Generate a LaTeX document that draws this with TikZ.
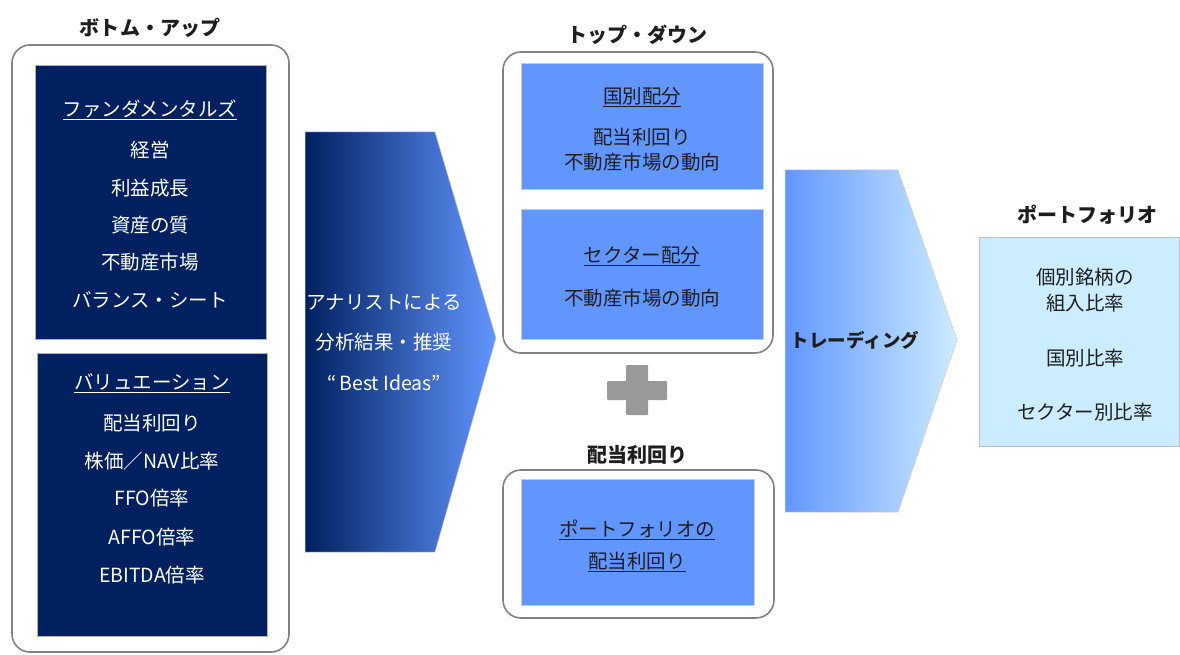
\documentclass[tikz,border=0pt]{standalone}
\usepackage{fontspec}
\newfontfamily\jp{Noto Sans CJK JP}
\definecolor{navy}{RGB}{0,32,96}
\definecolor{midblue}{RGB}{98,150,255}
\definecolor{paleblue}{RGB}{204,236,255}
\definecolor{ink}{RGB}{30,30,30}
\definecolor{framegray}{RGB}{130,130,130}
\definecolor{plusgray}{RGB}{153,153,153}
\tikzset{
  txt/.style={font=\jp\fontsize{19.5bp}{22bp}\selectfont, inner sep=0pt, align=center},
  wtxt/.style={txt, text=white},
  dtxt/.style={txt, text=ink},
  ttl/.style={font=\jp\bfseries\fontsize{20bp}{22bp}\selectfont, inner sep=0pt, text=ink},
  group/.style={draw=framegray, line width=1.6bp, rounded corners=18bp},
  navybox/.style={fill=navy, draw=gray!60, line width=0.6bp},
  bluebox/.style={fill=midblue, draw=gray!40, line width=0.6bp},
}
\begin{document}
\begin{tikzpicture}[x=1bp,y=-1bp]
\useasboundingbox (0,0) rectangle (1180,655);
\fill[white] (0,0) rectangle (1180,655);

% ---------------- Bottom-up ----------------
\node[ttl] (tbu) at (150,28) {ボトム・アップ};
\draw[group] (12,45) rectangle (289,652);
\draw[navybox] (35,65) rectangle (266,339);
\node[wtxt] (fh) at (150,110) {\underline{ファンダメンタルズ}};
\node[wtxt] (f1) at (150,150) {経営};
\node[wtxt] (f2) at (150,188) {利益成長};
\node[wtxt] (f3) at (150,225) {資産の質};
\node[wtxt] (f4) at (150,262) {不動産市場};
\node[wtxt] (f5) at (150,300) {バランス・シート};

\draw[navybox] (37,353) rectangle (267,636);
\node[wtxt] (vh) at (152,383) {\underline{バリュエーション}};
\node[wtxt] (v1) at (152,423) {配当利回り};
\node[wtxt] (v2) at (152,461) {株価／NAV比率};
\node[wtxt] (v3) at (152,498) {FFO倍率};
\node[wtxt] (v4) at (152,537) {AFFO倍率};
\node[wtxt] (v5) at (152,575) {EBITDA倍率};

% ---------------- Analyst arrow ----------------
\shade[left color=navy, right color=midblue, draw=gray!40, line width=0.5bp]
  (305,132) -- (435,132) -- (496,338) -- (435,552) -- (305,552) -- cycle;
\node[wtxt] (a1) at (384,302) {アナリストによる};
\node[wtxt] (a2) at (384,342) {分析結果・推奨};
\node[wtxt] (a3) at (384,383) {“\,Best Ideas”};

% ---------------- Top-down ----------------
\node[ttl] (ttd) at (637,35) {トップ・ダウン};
\draw[group] (503,52) rectangle (773,353);
\draw[bluebox] (521,63) rectangle (763,189);
\node[dtxt] (k0) at (642,97) {\underline{国別配分}};
\node[dtxt] (k1) at (642,137) {配当利回り};
\node[dtxt] (k2) at (642,162) {不動産市場の動向};
\draw[bluebox] (521,209) rectangle (763,339);
\node[dtxt] (s0) at (642,256) {\underline{セクター配分}};
\node[dtxt] (s1) at (642,298) {不動産市場の動向};

% plus sign
\fill[plusgray, rounded corners=1bp] (607,381) rectangle (667,400);
\fill[plusgray, rounded corners=1bp] (626,365) rectangle (648,415);

% ---------------- Dividend ----------------
\node[ttl] (tdv) at (637,455) {配当利回り};
\draw[group] (503,470) rectangle (774,618);
\draw[bluebox] (521,479) rectangle (754,605);
\node[dtxt] (d1) at (637,530) {\underline{ポートフォリオの}};
\node[dtxt] (d2) at (637,562) {\underline{配当利回り}};

% ---------------- Trading arrow ----------------
\shade[left color=midblue, right color=paleblue, draw=gray!40, line width=0.5bp]
  (785,170) -- (898,170) -- (957,340) -- (898,512) -- (785,512) -- cycle;
\node[dtxt, font=\jp\bfseries\fontsize{18.5bp}{22bp}\selectfont] (tr) at (855,340) {トレーディング};

% ---------------- Portfolio ----------------
\node[ttl] (tpf) at (1087,215) {ポートフォリオ};
\draw[fill=paleblue, draw=gray!50, line width=0.6bp] (979,237) rectangle (1179.7,446);
\node[dtxt] (p1) at (1085,277) {個別銘柄の};
\node[dtxt] (p2) at (1085,303) {組入比率};
\node[dtxt] (p3) at (1085,358) {国別比率};
\node[dtxt] (p4) at (1085,412) {セクター別比率};
\end{tikzpicture}
\end{document}
